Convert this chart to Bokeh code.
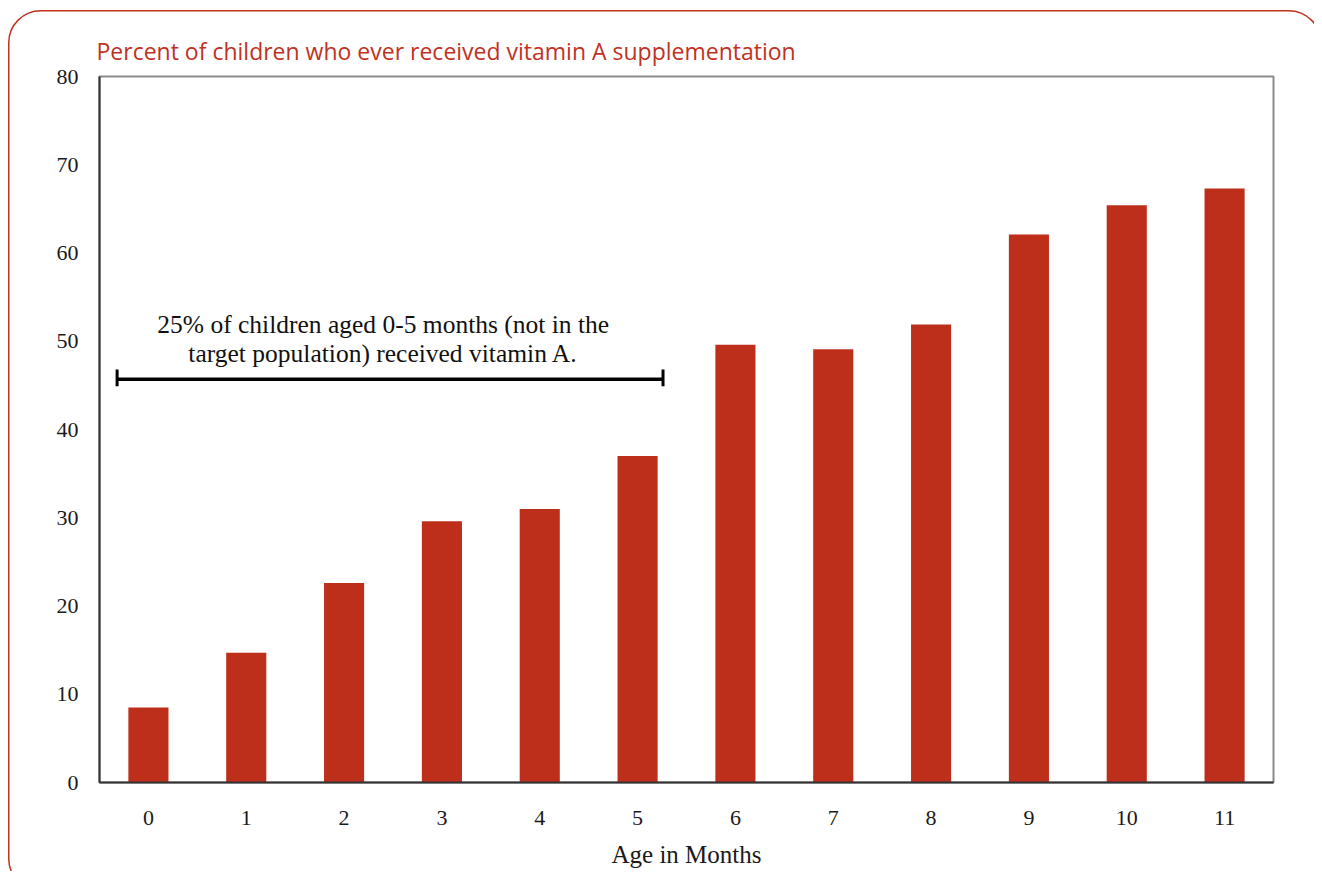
import base64
from bokeh.plotting import figure
from bokeh.models import Range1d, FixedTicker, Label
from bokeh.embed import file_html
from bokeh.resources import INLINE

# ---- data ----
months = list(range(12))
month_labels = [str(m) for m in months]
percent_ever_vita = [8.5, 14.7, 22.6, 29.6, 31.0, 37.0, 49.6, 49.1, 51.9, 62.1, 65.4, 67.3]
y_ticks = [0, 10, 20, 30, 40, 50, 60, 70, 80]

title_text = "Percent of children who ever received vitamin A supplementation"
note_lines = ["25% of children aged 0-5 months (not in the",
              "target population) received vitamin A."]
x_axis_title = "Age in Months"

# ---- styling / positions ----
RED = "#BE2F1B"
TITLE_RED = "#C1321F"
SERIF = "Liberation Serif"

W, H = 1314, 871

# rounded outer frame drawn as a CSS background behind the (transparent) canvas border
frame_svg = (
    f'<svg xmlns="http://www.w3.org/2000/svg" width="{W}" height="{H}">'
    f'<rect x="8.75" y="10.75" width="1312" height="880" rx="32" ry="32" '
    f'fill="none" stroke="{TITLE_RED}" stroke-width="1.5"/></svg>'
)
frame_b64 = base64.b64encode(frame_svg.encode()).decode()

p = figure(width=W, height=H, output_backend="svg", toolbar_location=None,
           x_range=Range1d(-0.5, 11.5), y_range=Range1d(0, 80),
           min_border_left=99, min_border_right=W - 1273,
           min_border_top=76, min_border_bottom=H - 782)
p.styles = {
    "background-image": f"url(data:image/svg+xml;base64,{frame_b64})",
    "background-repeat": "no-repeat",
    "background-color": "white",
}
p.background_fill_color = "white"
p.border_fill_color = None
p.outline_line_color = "#8a8a8a"
p.outline_line_width = 2
p.xgrid.visible = False
p.ygrid.visible = False

# title
p.title.text = title_text
p.title.text_font = "Open Sans"
p.title.text_font_size = "23px"
p.title.text_font_style = "normal"
p.title.text_color = TITLE_RED
p.title.align = "left"
p.title.offset = -3
p.title.standoff = 20

p.vbar(x=months, top=percent_ever_vita, width=0.41, color=RED, line_color=None)

for ax in (p.xaxis[0], p.yaxis[0]):
    ax.axis_line_color = "#333333"
    ax.axis_line_width = 2
    ax.major_tick_line_color = None
    ax.minor_tick_line_color = None
    ax.major_label_text_font = SERIF
    ax.major_label_text_font_size = "22px"
    ax.major_label_text_color = "#1a1a1a"

p.xaxis.ticker = FixedTicker(ticks=months)
p.xaxis.major_label_overrides = {m: s for m, s in zip(months, month_labels)}
p.xaxis.major_label_standoff = 22
p.xaxis.axis_label = x_axis_title
p.xaxis.axis_label_text_font = SERIF
p.xaxis.axis_label_text_font_size = "25px"
p.xaxis.axis_label_text_font_style = "normal"
p.xaxis.axis_label_text_color = "#1a1a1a"
p.xaxis.axis_label_standoff = 13

p.yaxis.ticker = FixedTicker(ticks=y_ticks)
p.yaxis.major_label_standoff = 15

# annotation bracket
BX0, BX1, BY = -0.32, 5.26, 45.7
p.segment(x0=[BX0], y0=[BY], x1=[BX1], y1=[BY], line_color="black", line_width=3.5)
p.segment(x0=[BX0, BX1], y0=[46.8, 46.8], x1=[BX0, BX1], y1=[44.9, 44.9],
          line_color="black", line_width=3)
for txt, yb in zip(note_lines, [51.95, 48.6]):
    p.add_layout(Label(x=2.40, y=yb, text=txt, text_font=SERIF, text_font_size="25.5px",
                       text_color="#111111", text_align="center",
                       text_baseline="alphabetic"))

open("out.html", "w").write(file_html(p, INLINE))
